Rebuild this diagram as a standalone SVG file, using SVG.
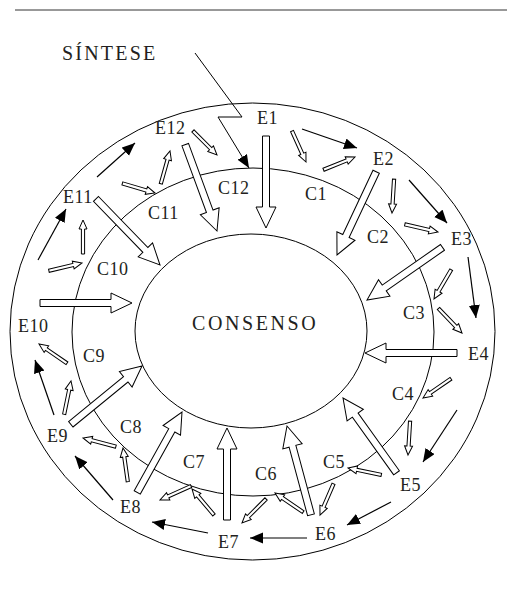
<svg xmlns="http://www.w3.org/2000/svg" width="507" height="590" viewBox="0 0 507 590">
<style>
.ring{fill:none;stroke:#000;stroke-width:1}
.lbl{font-family:"Liberation Serif",serif;font-size:18px;fill:#231f20;letter-spacing:0.5px}
.big,.small{fill:#fff;stroke:#000;stroke-width:1;stroke-linejoin:miter}
.solid{fill:none;stroke:#000;stroke-width:1.2;marker-end:url(#head)}
</style>
<defs>
<marker id="head" markerUnits="userSpaceOnUse" markerWidth="14" markerHeight="12" refX="13" refY="5.5" orient="auto">
<path d="M0,0 L13,5.5 L0,11 z" fill="#000"/>
</marker>
<polygon id="bigArrow" class="big" points="-92,-3.5 -21,-3.5 -21,-10 0,0 -21,10 -21,3.5 -92,3.5"/>
<polygon id="smallArrow" class="small" points="-34,-1.6 -9,-1.6 -9,-4 0,0 -9,4 -9,1.6 -34,1.6"/>
</defs>
<rect width="507" height="590" fill="#fff"/>
<line x1="15" y1="10" x2="507" y2="10" stroke="#333" stroke-width="1"/>

<g id="rings">
<ellipse id="outer" class="ring" cx="252.5" cy="331.5" rx="242.5" ry="228.5"/>
<ellipse id="middle" class="ring" cx="253" cy="332" rx="181" ry="164"/>
</g>

<g id="consenso">
<ellipse class="ring" cx="251" cy="331" rx="116" ry="97"/>
<text class="lbl" x="192" y="330" style="font-size:20px;letter-spacing:2.6px">CONSENSO</text>
</g>

<g id="sintese">
<text class="lbl" x="62" y="60" style="font-size:20px;letter-spacing:2.2px">SÍNTESE</text>
</g>

<g id="E1"><text class="lbl" x="257" y="124">E1</text></g>
<g id="E2"><text class="lbl" x="373" y="165">E2</text></g>
<g id="E3"><text class="lbl" x="451" y="245">E3</text></g>
<g id="E4"><text class="lbl" x="468" y="360">E4</text></g>
<g id="E5"><text class="lbl" x="400" y="491">E5</text></g>
<g id="E6"><text class="lbl" x="315" y="540">E6</text></g>
<g id="E7"><text class="lbl" x="218" y="548">E7</text></g>
<g id="E8"><text class="lbl" x="120" y="513">E8</text></g>
<g id="E9"><text class="lbl" x="47" y="442">E9</text></g>
<g id="E10"><text class="lbl" x="18" y="332">E10</text></g>
<g id="E11"><text class="lbl" x="63" y="203">E11</text></g>
<g id="E12"><text class="lbl" x="155" y="134">E12</text></g>

<g id="C1"><text class="lbl" x="305" y="200">C1</text></g>
<g id="C2"><text class="lbl" x="367" y="243">C2</text></g>
<g id="C3"><text class="lbl" x="403" y="319">C3</text></g>
<g id="C4"><text class="lbl" x="392" y="400">C4</text></g>
<g id="C5"><text class="lbl" x="323" y="468">C5</text></g>
<g id="C6"><text class="lbl" x="255" y="480">C6</text></g>
<g id="C7"><text class="lbl" x="183" y="468">C7</text></g>
<g id="C8"><text class="lbl" x="120" y="433">C8</text></g>
<g id="C9"><text class="lbl" x="83" y="362">C9</text></g>
<g id="C10"><text class="lbl" x="97" y="275">C10</text></g>
<g id="C11"><text class="lbl" x="148" y="219">C11</text></g>
<g id="C12"><text class="lbl" x="218" y="194">C12</text></g>

<g id="connectors">
<!-- big hollow arrows to consensus -->
<use href="#bigArrow" transform="translate(266,228) rotate(90)"/>
<use href="#bigArrow" transform="translate(337,255) rotate(115.2)"/>
<use href="#bigArrow" transform="translate(367,300) rotate(145.1)"/>
<use href="#bigArrow" transform="translate(365,353) rotate(180)"/>
<use href="#bigArrow" transform="translate(343,398) rotate(-125.6)"/>
<use href="#bigArrow" transform="translate(287,426) rotate(-105.1)"/>
<use href="#bigArrow" transform="translate(227,428) rotate(-90)"/>
<use href="#bigArrow" transform="translate(182,412) rotate(-60.9)"/>
<use href="#bigArrow" transform="translate(142,366) rotate(-39.3)"/>
<use href="#bigArrow" transform="translate(132,303) rotate(0)"/>
<use href="#bigArrow" transform="translate(160,265) rotate(45.9)"/>
<use href="#bigArrow" transform="translate(217,231) rotate(69.8)"/>

<!-- small hollow arrows -->
<use href="#smallArrow" transform="translate(217,155) rotate(45)"/>
<use href="#smallArrow" transform="translate(306,162) rotate(65.7)"/>
<use href="#smallArrow" transform="translate(355,157) rotate(-22.1)"/>
<use href="#smallArrow" transform="translate(392,213) rotate(93.5)"/>
<use href="#smallArrow" transform="translate(438,232) rotate(12.9)"/>
<use href="#smallArrow" transform="translate(434,299) rotate(120.4)"/>
<use href="#smallArrow" transform="translate(462,333) rotate(46.2)"/>
<use href="#smallArrow" transform="translate(423,398) rotate(145.4)"/>
<use href="#smallArrow" transform="translate(408,455) rotate(93.5)"/>
<use href="#smallArrow" transform="translate(348,468) rotate(-168.4)"/>
<use href="#smallArrow" transform="translate(320,515) rotate(113.4)"/>
<use href="#smallArrow" transform="translate(275,493) rotate(-145.8)"/>
<use href="#smallArrow" transform="translate(242,523) rotate(135)"/>
<use href="#smallArrow" transform="translate(192,489) rotate(-130.2)"/>
<use href="#smallArrow" transform="translate(160,500) rotate(155.9)"/>
<use href="#smallArrow" transform="translate(123,448) rotate(-98.1)"/>
<use href="#smallArrow" transform="translate(83,438) rotate(-165.2)"/>
<use href="#smallArrow" transform="translate(71,381) rotate(-78.4)"/>
<use href="#smallArrow" transform="translate(39,344) rotate(-145.4)"/>
<use href="#smallArrow" transform="translate(82,263) rotate(-13.2)"/>
<use href="#smallArrow" transform="translate(83,220) rotate(-90)"/>
<use href="#smallArrow" transform="translate(155,193) rotate(16.4)"/>
<use href="#smallArrow" transform="translate(170,151) rotate(-74.3)"/>

<!-- solid arrows around outer ring -->
<line class="solid" x1="302" y1="129" x2="357" y2="148"/>
<line class="solid" x1="409" y1="180" x2="447" y2="223"/>
<line class="solid" x1="468" y1="257" x2="476" y2="318"/>
<line class="solid" x1="457" y1="410" x2="423" y2="462"/>
<line class="solid" x1="391" y1="502" x2="347" y2="525"/>
<line class="solid" x1="307" y1="538" x2="250" y2="538"/>
<line class="solid" x1="208" y1="533" x2="152" y2="522"/>
<line class="solid" x1="113" y1="500" x2="75" y2="456"/>
<line class="solid" x1="54" y1="415" x2="35" y2="360"/>
<line class="solid" x1="38" y1="260" x2="66" y2="209"/>
<line class="solid" x1="97" y1="177" x2="135" y2="143"/>
<polyline class="solid" points="195,53 242,117 218,117 249,168" style="stroke-width:1"/>
</g>
</svg>
